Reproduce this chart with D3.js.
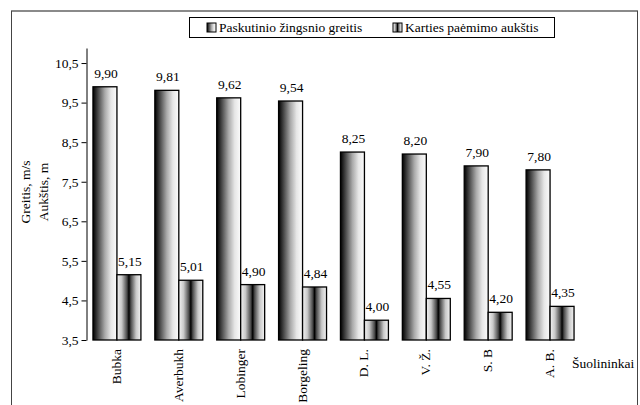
<!DOCTYPE html>
<html><head><meta charset="utf-8">
<script src="https://cdn.jsdelivr.net/npm/d3@7"></script>
<style>
html,body{margin:0;padding:0;background:#fff;}
</style></head>
<body>
<svg id="chart" width="640" height="405"></svg>
<script>
const categories = ["Bubka","Averbukh","Lobinger","Borgeling","D. L.","V. Ž.","S. B","A. B."];
const speed = [9.90, 9.81, 9.62, 9.54, 8.25, 8.20, 7.90, 7.80];
const height = [5.15, 5.01, 4.90, 4.84, 4.00, 4.55, 4.20, 4.35];
const seriesNames = ["Paskutinio žingsnio greitis", "Karties paėmimo aukštis"];
const yTicks = [3.5, 4.5, 5.5, 6.5, 7.5, 8.5, 9.5, 10.5];
const yTitle = ["Greitis, m/s", "Aukštis, m"];
const xTitle = "Šuolininkai";

const FONT = "Liberation Serif";
const FS = 13.5;
const svg = d3.select("#chart");
const defs = svg.append("defs");
const g1 = defs.append("linearGradient").attr("id","grad1").attr("x1","0").attr("x2","1").attr("y1","0").attr("y2","0");
[[0,"#000"],[0.2,"#444"],[0.5,"#aaa"],[0.75,"#e6e6e6"],[1,"#fcfcfc"]].forEach(s=>g1.append("stop").attr("offset",s[0]).attr("stop-color",s[1]));
const g2 = defs.append("linearGradient").attr("id","grad2").attr("x1","0").attr("x2","1").attr("y1","0").attr("y2","0");
[[0,"#f4f4f4"],[0.2,"#c8c8c8"],[0.42,"#4a4a4a"],[0.5,"#000"],[0.58,"#4a4a4a"],[0.8,"#c8c8c8"],[1,"#f4f4f4"]].forEach(s=>g2.append("stop").attr("offset",s[0]).attr("stop-color",s[1]));
const fills = ["url(#grad1)","url(#grad2)"];

// frame
svg.append("line").attr("x1",11).attr("x2",638).attr("y1",11).attr("y2",11).attr("stroke","#8a8a8a").attr("stroke-width",2);
svg.append("line").attr("x1",11.5).attr("x2",11.5).attr("y1",11).attr("y2",405).attr("stroke","#444").attr("stroke-width",1);
svg.append("line").attr("x1",637.5).attr("x2",637.5).attr("y1",11).attr("y2",405).attr("stroke","#444").attr("stroke-width",1);

const x = d3.scaleBand().domain(categories).range([86,581]).paddingInner(0.225).paddingOuter(0.1125);
const xs = d3.scaleBand().domain([0,1]).range([0,x.bandwidth()]);
const y = d3.scaleLinear().domain([3.5,10.88]).range([340,48]);

// y axis
const yAxis = d3.axisLeft(y).tickValues(yTicks).tickSize(5).tickSizeOuter(0)
  .tickFormat(d=>d3.format(".1f")(d).replace(".",","));
const ya = svg.append("g").attr("transform","translate(86.5,0)").call(yAxis).attr("font-family",FONT).attr("font-size",FS);
ya.select(".domain").attr("stroke","#000");
ya.selectAll(".tick line").attr("stroke","#000");
ya.selectAll(".tick text").attr("fill","#000").attr("x",-8).attr("font-family",FONT);

const root = svg.append("g").attr("font-family",FONT).attr("font-size",FS);

// bars
const data = [speed, height];
data.forEach((arr,si)=>{
  root.append("g").selectAll("rect").data(arr).join("rect")
    .attr("x",(d,i)=>x(categories[i])+xs(si))
    .attr("y",d=>y(d))
    .attr("width",xs.bandwidth())
    .attr("height",d=>y(3.5)-y(d))
    .attr("fill",fills[si])
    .attr("stroke","#000").attr("stroke-width",1.3);
  root.append("g").selectAll("text").data(arr).join("text")
    .attr("x",(d,i)=>x(categories[i])+xs(si)+xs.bandwidth()/2+1)
    .attr("y",d=>y(d)-9)
    .attr("text-anchor","middle").attr("fill","#000").attr("font-family",FONT)
    .text(d=>d3.format(".2f")(d).replace(".",","));
});

// category labels
root.append("g").selectAll("text").data(categories).join("text")
  .attr("transform",d=>`translate(${x(d)+x.bandwidth()/2+4},349) rotate(-90)`)
  .attr("text-anchor","end").attr("fill","#000").attr("font-family",FONT)
  .text(d=>d);

root.append("text").attr("x",572).attr("y",368).attr("fill","#000").attr("font-family",FONT).text(xTitle);

// y title
yTitle.forEach((t,i)=>{
  root.append("text").attr("transform",`translate(${30+i*18},192) rotate(-90)`)
    .attr("text-anchor","middle").attr("fill","#000").attr("font-family",FONT).text(t);
});

// legend
const lg = root.append("g");
lg.append("rect").attr("x",189.5).attr("y",17.5).attr("width",365).attr("height",20).attr("fill","#fff").attr("stroke","#000").attr("stroke-width",1);
const legX = [207, 393];
seriesNames.forEach((n,i)=>{
  lg.append("rect").attr("x",legX[i]).attr("y",23).attr("width",9).attr("height",9).attr("fill",fills[i]).attr("stroke","#000").attr("stroke-width",1);
  lg.append("text").attr("x",legX[i]+12).attr("y",32).attr("fill","#000").attr("font-family",FONT).text(n);
});
</script>
</body></html>
